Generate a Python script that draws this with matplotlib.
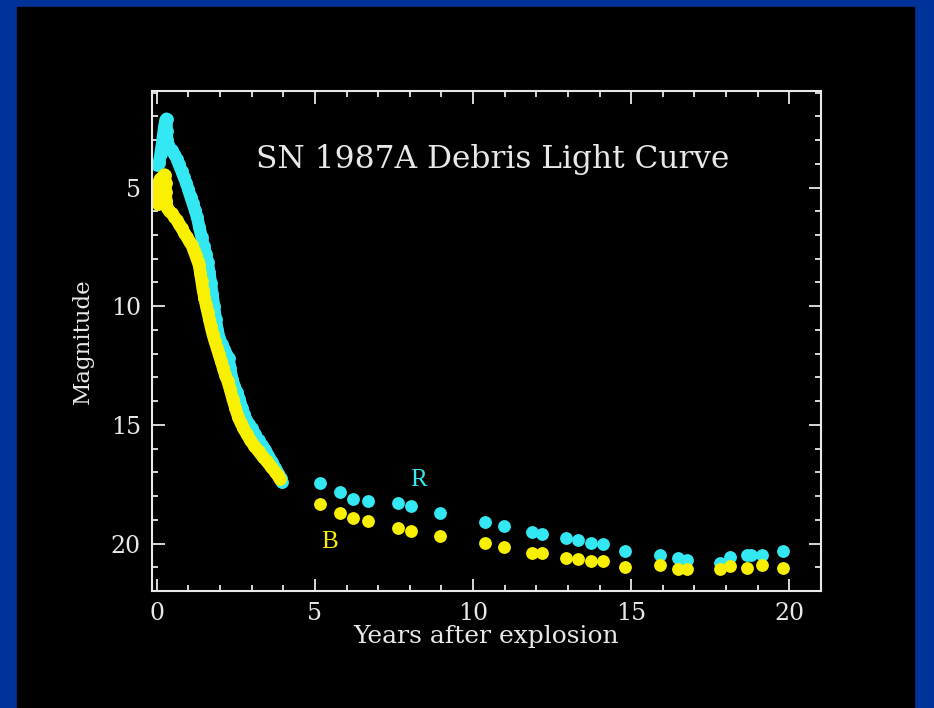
import numpy as np
import matplotlib.pyplot as plt
from matplotlib.patches import Rectangle

# early, densely sampled photometry (years, magnitude)
r_early_t = [0.02, 0.08, 0.12, 0.16, 0.20, 0.24, 0.28, 0.31, 0.31, 0.33, 0.40, 0.47,
             0.55, 0.63, 0.70, 0.79, 0.86, 0.93, 1.00, 1.07, 1.14, 1.21, 1.28, 1.35,
             1.42, 1.48, 1.55, 1.61, 1.66, 1.71, 1.76, 1.81, 1.86, 1.92, 1.98, 2.05,
             2.12, 2.20, 2.27, 2.32, 2.38, 2.45, 2.53, 2.61, 2.69, 2.76, 2.83, 2.91,
             3.00, 3.10, 3.22, 3.32, 3.43, 3.53, 3.64, 3.75, 3.85, 3.92, 3.96]
r_early_m = [4.05, 3.95, 3.60, 3.25, 2.85, 2.45, 2.15, 2.10, 2.60, 3.00, 3.30, 3.42,
             3.58, 3.78, 4.02, 4.32, 4.56, 4.80, 5.08, 5.38, 5.66, 5.95, 6.26, 6.68,
             7.10, 7.45, 7.80, 8.15, 8.56, 9.02, 9.50, 10.00, 10.52, 11.00, 11.35, 11.58,
             11.80, 12.00, 12.20, 12.60, 13.05, 13.35, 13.62, 13.90, 14.28, 14.55, 14.78, 14.98,
             15.15, 15.40, 15.65, 15.85, 16.05, 16.30, 16.55, 16.82, 17.05, 17.25, 17.42]

b_early_t = [0.05, 0.05, 0.05, 0.10, 0.18, 0.25, 0.28, 0.28, 0.30, 0.33, 0.40, 0.47,
             0.55, 0.63, 0.71, 0.79, 0.87, 0.95, 1.03, 1.11, 1.17, 1.23, 1.29, 1.34,
             1.38, 1.42, 1.46, 1.51, 1.56, 1.61, 1.66, 1.71, 1.77, 1.83, 1.90, 1.96,
             2.03, 2.10, 2.17, 2.24, 2.32, 2.40, 2.49, 2.58, 2.66, 2.74, 2.84, 2.95,
             3.08, 3.22, 3.35, 3.48, 3.61, 3.74, 3.82, 3.90]
b_early_m = [5.70, 5.25, 4.85, 4.65, 4.55, 4.45, 4.80, 5.20, 5.55, 5.85, 5.98, 6.09,
             6.22, 6.37, 6.55, 6.72, 6.90, 7.08, 7.26, 7.43, 7.64, 7.86, 8.08, 8.28,
             8.60, 8.95, 9.30, 9.65, 9.95, 10.25, 10.54, 10.85, 11.17, 11.45, 11.74, 12.00,
             12.30, 12.60, 12.90, 13.15, 13.50, 13.90, 14.30, 14.68, 14.92, 15.13, 15.38, 15.62,
             15.88, 16.12, 16.34, 16.54, 16.76, 16.97, 17.12, 17.30]

# later epochs, R and B taken at the same dates
late_t = [5.17, 5.78, 6.22, 6.68, 7.62, 8.05, 8.97, 10.39, 10.97, 11.87, 12.18,
          12.95, 13.32, 13.73, 14.10, 14.80, 15.90, 16.47, 16.77, 17.80, 18.11,
          18.65, 19.15, 19.80]
r_late_m = [17.46, 17.84, 18.12, 18.19, 18.28, 18.42, 18.70, 19.08, 19.27, 19.51, 19.61,
            19.76, 19.86, 19.97, 20.03, 20.31, 20.47, 20.61, 20.71, 20.81, 20.57,
            20.50, 20.47, 20.33]
b_late_m = [18.35, 18.73, 18.94, 19.04, 19.34, 19.47, 19.69, 19.97, 20.14, 20.38, 20.38,
            20.61, 20.67, 20.75, 20.75, 20.99, 20.89, 21.09, 21.09, 21.09, 20.95,
            21.03, 20.89, 21.03]
# extra R point next to the 18.65 yr one
r_extra_t = [18.78]
r_extra_m = [20.50]

cyan = '#33e8f2'
yellow = '#f8f000'
fg = '#e8e8e8'

fig = plt.figure(figsize=(9.34, 7.08), dpi=100, facecolor='#003399')
fig.add_artist(Rectangle((17 / 934, 0), (914 - 17) / 934, 701 / 708,
                         transform=fig.transFigure, color='black', zorder=-10))

ax = fig.add_axes([0.1627, 0.1653, 0.7163, 0.7055])
ax.set_facecolor('black')

ms = 8.2
ax.plot(r_early_t, r_early_m, '-o', color=cyan, lw=ms + 0.8, ms=ms,
        solid_capstyle='round', solid_joinstyle='round')
ax.plot(late_t, r_late_m, 'o', color=cyan, ms=ms)
ax.plot(r_extra_t, r_extra_m, 'o', color=cyan, ms=ms)
ax.plot(b_early_t, b_early_m, '-o', color=yellow, lw=ms + 0.8, ms=ms,
        solid_capstyle='round', solid_joinstyle='round')
ax.plot(late_t, b_late_m, 'o', color=yellow, ms=ms)

ax.set_xlim(-0.15, 21.0)
ax.set_ylim(22, 0.95)

ax.set_xticks([0, 5, 10, 15, 20])
ax.set_xticks(np.arange(0, 21, 1), minor=True)
ax.set_yticks([5, 10, 15, 20])
ax.set_yticks(np.arange(1, 22, 1), minor=True)

for s in ax.spines.values():
    s.set_color(fg)
    s.set_linewidth(1.5)
ax.tick_params(which='both', direction='in', top=True, right=True, colors=fg,
               width=1.3)
ax.tick_params(which='major', length=9, labelsize=17, pad=8)
ax.tick_params(which='minor', length=4.5)
for lab in ax.get_xticklabels() + ax.get_yticklabels():
    lab.set_family('DejaVu Serif')
    lab.set_color(fg)

ax.set_xlabel('Years after explosion', fontsize=18, color=fg,
              family='DejaVu Serif', labelpad=0)
ax.set_ylabel('Magnitude', fontsize=16.5, color=fg, family='DejaVu Serif',
              labelpad=12)

ax.text(0.509, 0.863, 'SN 1987A Debris Light Curve', transform=ax.transAxes,
        ha='center', va='center', fontsize=22.5, color=fg, family='DejaVu Serif')
ax.text(0.398, 0.222, 'R', transform=ax.transAxes, ha='center', va='center',
        fontsize=18, color=cyan, family='Liberation Serif')
ax.text(0.265, 0.099, 'B', transform=ax.transAxes, ha='center', va='center',
        fontsize=18, color=yellow, family='Liberation Serif')

fig.savefig('out.png', dpi=100, facecolor=fig.get_facecolor())
